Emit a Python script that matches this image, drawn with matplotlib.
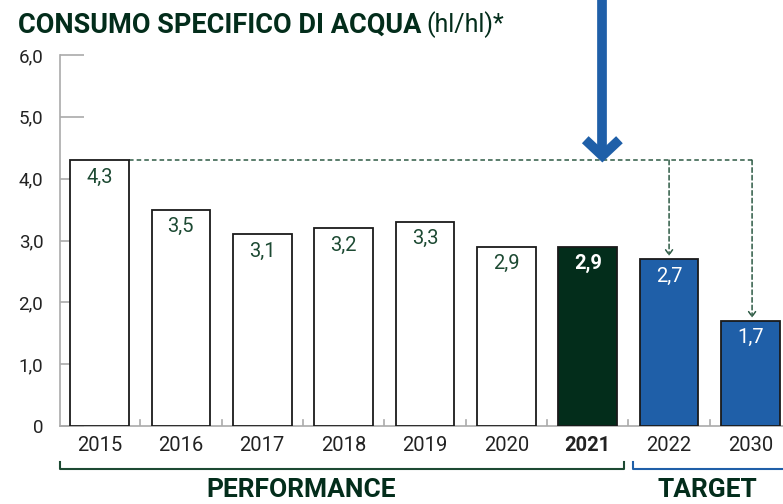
"""Consumo specifico di acqua (hl/hl) bar chart."""

import matplotlib.pyplot as plt

years = ["2015", "2016", "2017", "2018", "2019", "2020", "2021", "2022", "2030"]
values = [4.3, 3.5, 3.1, 3.2, 3.3, 2.9, 2.9, 2.7, 1.7]
value_labels = ["4,3", "3,5", "3,1", "3,2", "3,3", "2,9", "2,9", "2,7", "1,7"]
ytick_values = [0, 1, 2, 3, 4, 5, 6]
ytick_labels = ["0", "1,0", "2,0", "3,0", "4,0", "5,0", "6,0"]

DARK_GREEN = "#032d1b"
TEXT_GREEN = "#1d4a33"
BLUE = "#1f5fa8"
GRAY = "#aaaaaa"
FONT = ["Roboto", "DejaVu Sans"]


def main() -> None:
    plt.rcParams["font.family"] = FONT
    fig = plt.figure(figsize=(7.83, 5.04), dpi=100)
    ax = fig.add_axes([60 / 783, 78 / 504, 723 / 783, 371 / 504])

    x = list(range(len(years)))
    faces = ["white"] * 6 + [DARK_GREEN, BLUE, BLUE]
    ax.bar(x, values, width=0.72, color=faces, edgecolor="#1a1a1a", linewidth=1.3, zorder=3)

    for i, (v, lab) in enumerate(zip(values, value_labels)):
        color = TEXT_GREEN if i < 6 else "white"
        weight = "bold" if i == 6 else "normal"
        ax.text(i, v - 0.12, lab, ha="center", va="top", fontsize=14.5, color=color,
                fontweight=weight, zorder=4)

    ax.set_xlim(-0.485, 8.40)
    ax.set_ylim(0, 6.0)
    ax.set_yticks(ytick_values)
    ax.set_yticklabels(ytick_labels, fontsize=13.5, color="#222222")
    ax.tick_params(axis="y", direction="in", length=17, color=GRAY, width=1.2, pad=12)
    ax.set_xticks(x)
    ax.set_xticklabels(years, fontsize=14.5, color="#222222")
    ax.get_xticklabels()[6].set_fontweight("bold")
    ax.tick_params(axis="x", length=0, pad=7)
    for spine in ("top", "right"):
        ax.spines[spine].set_visible(False)
    for spine in ("left", "bottom"):
        ax.spines[spine].set_color(GRAY)
        ax.spines[spine].set_linewidth(1.2)

    # small separators between bars
    for k in range(len(years) - 1):
        ax.plot([k + 0.5, k + 0.5], [0, 0.1], color=GRAY, lw=1.2, zorder=2)

    # dashed reference line from the 2015 level to the targets
    dash = dict(color="#2d5a44", lw=1.1, linestyle=(0, (3, 2)))
    ax.plot([0.36, 8.02], [values[0], values[0]], zorder=2, **dash)
    for xi, vi in ((7, values[7]), (8.02, values[8])):
        ax.annotate("", xy=(xi, vi + 0.05), xytext=(xi, values[0]),
                    arrowprops=dict(arrowstyle="->,head_length=0.35,head_width=0.25",
                                    color="#2d5a44", lw=1.1, linestyle=(0, (3, 2)),
                                    shrinkA=0, shrinkB=0))

    # big blue arrow pointing at the 2015 level
    xa, ya = 6.18, values[0] + 0.03
    ax.plot([xa, xa], [ya + 0.1, 7.0], color=BLUE, lw=7, solid_capstyle="butt",
            clip_on=False, zorder=5)
    ax.plot([xa - 0.21, xa, xa + 0.21], [ya + 0.3, ya + 0.04, ya + 0.3], color=BLUE, lw=7,
            solid_joinstyle="miter", solid_capstyle="butt", clip_on=False, zorder=5)

    # title
    t = fig.text(18 / 783, 1 - 25 / 504, "CONSUMO SPECIFICO DI ACQUA", fontsize=19.5,
                 fontweight="bold", color=DARK_GREEN, va="center", ha="left")
    fig.canvas.draw()
    bb = t.get_window_extent()
    fig.text(bb.x1 / 783 + 0.006, 1 - 25 / 504, "(hl/hl)*", fontsize=18,
             color=DARK_GREEN, va="center", ha="left")

    # group brackets
    def bracket(x0, x1, y, color):
        ax.plot([x0, x0, x1, x1], [y + 0.1, y, y, y + 0.1], color=color, lw=1.5,
                clip_on=False)

    yb = -0.69
    bracket(-0.485, 6.45, yb, TEXT_GREEN)
    bracket(6.56, 8.6, yb, BLUE)
    ax.text(2.48, -1.04, "PERFORMANCE", ha="center", va="center", fontsize=19,
            fontweight="bold", color=DARK_GREEN, clip_on=False)
    ax.text(7.47, -1.04, "TARGET", ha="center", va="center", fontsize=19,
            fontweight="bold", color=DARK_GREEN, clip_on=False)

    fig.savefig("out.png", dpi=100)
    plt.close(fig)


if __name__ == "__main__":
    main()
